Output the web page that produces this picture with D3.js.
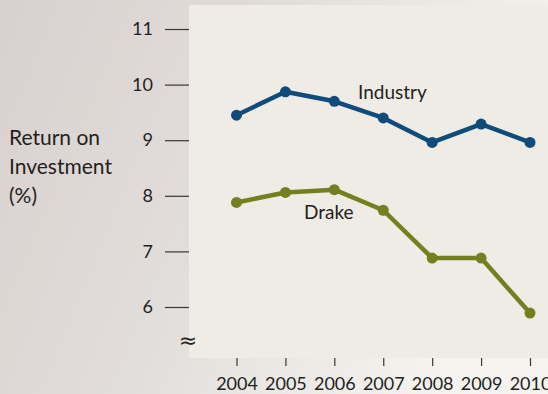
<!DOCTYPE html>
<html><head><meta charset="utf-8">
<script src="https://cdn.jsdelivr.net/npm/d3@7"></script>
<style>body{margin:0;}svg{display:block;}</style>
</head><body><svg id="c" width="548" height="394"></svg>
<script>
const years = ["2004","2005","2006","2007","2008","2009","2010"];
const industry = [9.45, 9.87, 9.70, 9.40, 8.96, 9.29, 8.96];
const drake = [7.88, 8.06, 8.11, 7.74, 6.88, 6.88, 5.89];
const yTicks = [6, 7, 8, 9, 10, 11];
const seriesNames = ["Industry", "Drake"];

const svg = d3.select("#c");
const W = 548, H = 394;
const font = "Lato, 'Open Sans', sans-serif";

const defs = svg.append("defs");
const g = defs.append("linearGradient").attr("id","bg").attr("x1","0").attr("x2","1").attr("y1","0").attr("y2","0.3");
g.append("stop").attr("offset","0").attr("stop-color","#d8d0ce");
g.append("stop").attr("offset","0.5").attr("stop-color","#e2dedb");
g.append("stop").attr("offset","1").attr("stop-color","#f5f3f0");
svg.append("rect").attr("width",W).attr("height",H).attr("fill","url(#bg)");

const panel = {x0:189, y0:5, x1:548, y1:358};
svg.append("rect").attr("x",panel.x0).attr("y",panel.y0).attr("width",panel.x1-panel.x0).attr("height",panel.y1-panel.y0).attr("fill","#efebe5");

const x = d3.scalePoint().domain(years).range([236.5, 530]);
const y = d3.scaleLinear().domain([6, 11]).range([307, 29]);

// y axis
const yAxis = d3.axisLeft(y).tickValues(yTicks).tickSize(24).tickPadding(12).tickFormat(d3.format("d"));
const ya = svg.append("g").attr("transform",`translate(${panel.x0},0)`).call(yAxis);
ya.select(".domain").remove();
ya.selectAll("line").attr("stroke","#3a3634").attr("stroke-width",1.2);
ya.selectAll("text").attr("font-family",font).attr("font-size",18).attr("fill","#231f1d");

// x axis
const xAxis = d3.axisBottom(x).tickSize(8).tickPadding(9);
const xa = svg.append("g").attr("transform",`translate(0,${panel.y1})`).call(xAxis);
xa.select(".domain").remove();
xa.selectAll("line").attr("stroke","#3a3634").attr("stroke-width",1.2);
xa.selectAll("text").attr("font-family",font).attr("font-size",18).attr("fill","#231f1d").attr("dy",null).attr("y",32);

// break symbol
svg.append("text").attr("x",188).attr("y",348).attr("text-anchor","middle").attr("font-family","DejaVu Sans, sans-serif").attr("font-size",22).attr("fill","#231f1d").text("≈");

// y label
const yl = svg.append("text").attr("font-family",font).attr("font-size",21).attr("fill","#231f1d");
["Return on","Investment","(%)"].forEach((t,i)=>yl.append("tspan").attr("x",9).attr("y",145+i*29).text(t));

const series = [
  {name: seriesNames[0], vals: industry, color:"#0f4b7b", lx:358, ly:99},
  {name: seriesNames[1], vals: drake, color:"#72801f", lx:304, ly:219}
];
const line = d3.line().x((d,i)=>x(years[i])).y(d=>y(d));
series.forEach(s=>{
  svg.append("path").attr("d",line(s.vals)).attr("fill","none").attr("stroke",s.color).attr("stroke-width",4.5).attr("stroke-linejoin","round");
  svg.selectAll(null).data(s.vals).enter().append("circle")
    .attr("cx",(d,i)=>x(years[i])).attr("cy",d=>y(d)).attr("r",5.5).attr("fill",s.color);
  svg.append("text").attr("x",s.lx).attr("y",s.ly).attr("font-family",font).attr("font-size",19).attr("fill","#231f1d").text(s.name);
});
</script></body></html>
